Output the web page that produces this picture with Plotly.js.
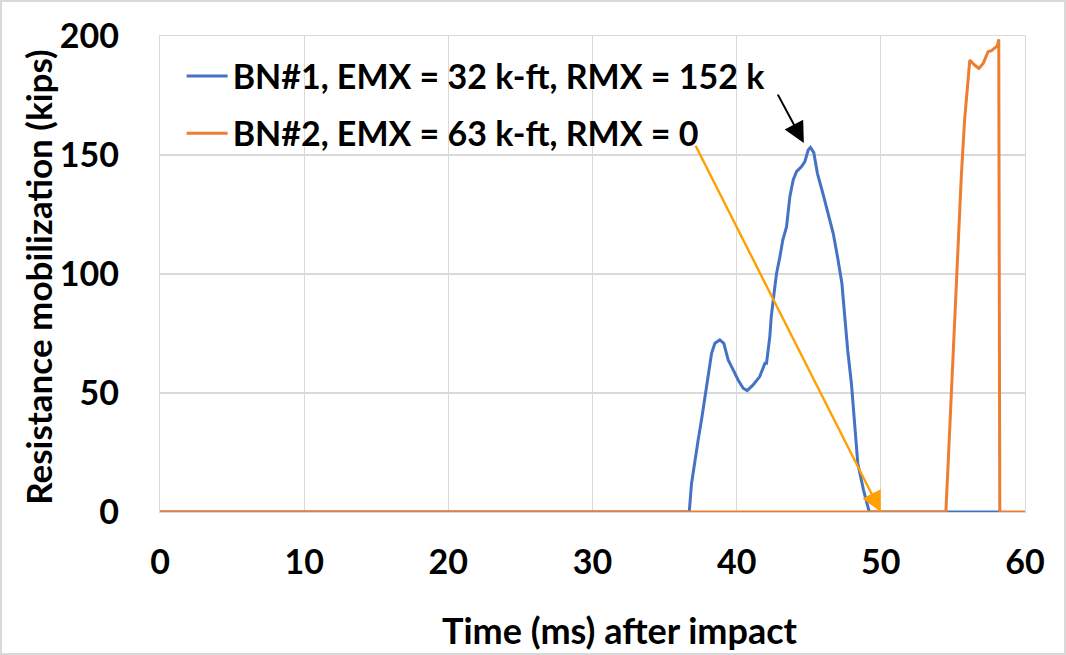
<!DOCTYPE html>
<html>
<head>
<meta charset="utf-8">
<script src="https://cdn.plot.ly/plotly-3.0.1.min.js"></script>
<style>
  html, body { margin: 0; padding: 0; background: #fff; }
  #wrap { width: 1066px; height: 655px; box-sizing: border-box; border: 2px solid #D9D9D9; position: relative; overflow: hidden; }
  #chart { position: absolute; left: -2px; top: -2px; width: 1066px; height: 655px; }
</style>
</head>
<body>
<div id="wrap"><div id="chart"></div></div>
<script>
// ---- data ----
const bn1Time = [0, 36.71, 36.87, 37.1, 37.33, 37.56, 37.8, 38.03, 38.26, 38.49, 38.83, 39.11, 39.41, 39.76, 40.1, 40.45, 40.73, 41.14, 41.6, 41.96,
  42.07, 42.3, 42.4, 42.65, 42.77, 43.0, 43.2, 43.46, 43.57, 43.69, 43.92, 44.15, 44.5, 44.73, 44.96, 45.12, 45.35,
  45.6, 45.98, 46.3, 46.7, 47.0, 47.3, 47.5, 47.7, 47.96, 48.2, 48.4, 48.8, 49.2, 58.3];
const bn1Res = [0, 0, 12, 21.8, 30.3, 38.7, 48.5, 56.9, 66.7, 70.9, 72.3, 70.9, 63.9, 59.7, 55.5, 52, 51, 53.4, 56.9, 62.5,
  62.5, 73.7, 82.1, 94.7, 100.3, 107.3, 114.3, 119.9, 126.9, 132.5, 139.5, 143, 145.1, 147.2, 152.1, 153.2, 151,
  142.3, 133.9, 126.9, 117, 107, 96, 82, 68, 54, 37.3, 20.5, 9.2, 0, 0];

const bn2Time = [0, 54.51, 54.67, 54.9, 55.25, 55.58, 55.81, 56.17, 56.5, 56.8, 57.1, 57.44, 57.67, 57.9, 58.08, 58.18, 58.25, 60];
const bn2Res  = [0, 0, 20.5, 49.9, 100.3, 140.9, 164.7, 189.9, 187.8, 186.4, 188.5, 193.4, 193.8, 194.8, 195.8, 198.6, 0, 0];

const seriesNames = ["BN#1, EMX = 32 k-ft, RMX = 152 k", "BN#2, EMX = 63 k-ft, RMX = 0"];
const xTicks = [0, 10, 20, 30, 40, 50, 60];
const yTicks = [0, 50, 100, 150, 200];
const xTitle = "Time (ms) after impact";
const yTitle = "Resistance mobilization (kips)";

// arrows: [tipX, tipY, tailX, tailY]
const peakArrow = [44.66, 155, 42.8, 176];
const rmxArrow = [50, 0, 37.1, 154.5];

// ---- chart ----
const FONT = "Lato, 'Open Sans', sans-serif";
const traces = [
  { x: bn1Time, y: bn1Res, name: seriesNames[0], mode: "lines", legendgroup: "a",
    line: { color: "#4472C4", width: 3 } },
  { x: bn2Time, y: bn2Res, name: seriesNames[1], mode: "lines", legendgroup: "b",
    line: { color: "#ED7D31", width: 3 } }
];

const axisCommon = {
  showgrid: true, gridcolor: "#D9D9D9", gridwidth: 1.3,
  zeroline: false, showline: true, linecolor: "#D9D9D9", linewidth: 1.3, mirror: true,
  ticks: "outside", tickcolor: "rgba(0,0,0,0)",
  tickfont: { family: FONT, size: 34, color: "#000", weight: 700 },
  automargin: false, fixedrange: true
};

const layout = {
  width: 1066, height: 655,
  margin: { l: 160, r: 41, t: 36, b: 143 },
  paper_bgcolor: "#fff", plot_bgcolor: "#fff",
  showlegend: true,
  legend: {
    x: 0.025, y: 0.976, xanchor: "left", yanchor: "top",
    bgcolor: "rgba(0,0,0,0)", borderwidth: 0, itemwidth: 41,
    font: { family: FONT, size: 34, color: "#000", weight: 700 },
    traceorder: "grouped", tracegroupgap: 10
  },
  xaxis: Object.assign({}, axisCommon, {
    range: [0, 60], tickvals: xTicks, ticktext: xTicks.map(String), ticklen: 20
  }),
  yaxis: Object.assign({}, axisCommon, {
    range: [0, 200], tickvals: yTicks, ticktext: yTicks.map(String), ticklen: 33
  }),
  annotations: [
    { text: xTitle, xref: "paper", yref: "paper", x: 0.532, y: -0.248, xanchor: "center", yanchor: "middle",
      showarrow: false, font: { family: FONT, size: 36, color: "#000", weight: 700 } },
    { text: yTitle, xref: "paper", yref: "paper", x: -0.1405, y: 0.495, xanchor: "center", yanchor: "middle",
      textangle: -90, showarrow: false, font: { family: FONT, size: 35, color: "#000", weight: 700 } },
    { x: peakArrow[0], y: peakArrow[1], ax: peakArrow[2], ay: peakArrow[3], xref: "x", yref: "y", axref: "x", ayref: "y",
      text: "", showarrow: true, arrowhead: 2, arrowsize: 2.1, arrowwidth: 2, arrowcolor: "#000", standoff: 0 },
    { x: rmxArrow[0], y: rmxArrow[1], ax: rmxArrow[2], ay: rmxArrow[3], xref: "x", yref: "y", axref: "x", ayref: "y",
      text: "", showarrow: true, arrowhead: 2, arrowsize: 1.7, arrowwidth: 2.4, arrowcolor: "#FFA000", standoff: 0 }
  ]
};

Plotly.newPlot("chart", traces, layout, { displayModeBar: false, staticPlot: true });
</script>
</body>
</html>
